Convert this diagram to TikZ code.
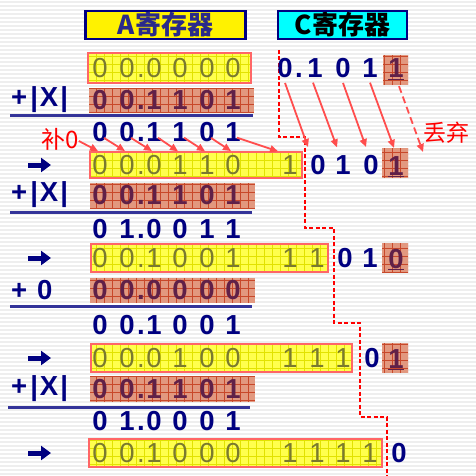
\documentclass[tikz,border=0pt]{standalone}
\usepackage{fontspec}
\setmainfont{Liberation Sans}
\newfontfamily\cjk{Noto Sans CJK SC}
\usetikzlibrary{arrows.meta}
\definecolor{navyT}{HTML}{000080}
\definecolor{titleT}{HTML}{2A2A8A}
\definecolor{lineB}{HTML}{333399}
\definecolor{oliveT}{HTML}{7A7A2E}
\definecolor{purpT}{HTML}{602048}
\definecolor{yFill}{HTML}{FFFF4D}
\definecolor{yGrid}{HTML}{E2E200}
\definecolor{yBord}{HTML}{FF6666}
\definecolor{bFill}{HTML}{E2987F}
\definecolor{bGrid}{HTML}{C8482A}
\definecolor{redA}{HTML}{FF4D4D}
\definecolor{stripeC}{HTML}{EEEEEE}
\definecolor{cyanF}{HTML}{00FFFF}
\tikzset{
  dig/.style={inner sep=0pt, font=\bfseries\fontsize{27.5}{32}\selectfont},
  nv/.style={dig, text=navyT},
  ol/.style={dig, text=oliveT, font=\fontsize{27.5}{32}\selectfont},
  pu/.style={dig, text=purpT},
  redtxt/.style={inner sep=0pt, text=red, font=\cjk\fontsize{24}{28}\selectfont},
  redarr/.style={draw=redA, line width=1.8pt, -{Triangle[length=8pt,width=7pt]}},
  sumline/.style={draw=lineB, line width=3pt},
  bigarr/.style={draw=navyT, line width=5pt, -{Triangle[length=10pt,width=14pt]}},
  titlebox/.style={draw=navyT, line width=2.5pt, inner sep=0pt, minimum height=28pt,
    font=\cjk\bfseries\fontsize{26}{30}\selectfont},
}
\newcommand\bitrow[4]{\foreach \x/\c [count=\i] in {#4}{\node[#3] (#1\i) at (\x,#2) {\c};}}
\newcommand\yreg[4]{\fill[yFill] (#1,#2) rectangle (#3,#4);
  \begin{scope}\clip (#1,#2) rectangle (#3,#4);
  \draw[yGrid, line width=0.7pt] (#1,#2) grid[step=8pt] (#3,#4);\end{scope}
  \draw[yBord, line width=1.5pt] (#1,#2) rectangle (#3,#4);}
\newcommand\breg[4]{\fill[bFill] (#1,#2) rectangle (#3,#4);
  \begin{scope}\clip (#1,#2) rectangle (#3,#4);
  \draw[bGrid, line width=0.7pt] (#1,#2) grid[step=8pt] (#3,#4);\end{scope}}
\newcommand\dotd[1]{#1\rlap{\kern2.5pt.}}
\begin{document}
\begin{tikzpicture}[x=1pt,y=-1pt]
\useasboundingbox (0,0) rectangle (476,476);
\fill[white] (0,0) rectangle (476,476);
\foreach \s in {2,6,...,474} \draw[stripeC, line width=1.3pt] (0,\s) -- (476,\s);

% titles
\node[titlebox, fill=yellow, text=titleT, minimum width=160pt] (tA) at (165.5,25) {\raisebox{-5pt}{A寄存器}};
\node[titlebox, fill=cyanF, text=black, minimum width=129pt] (tC) at (342.5,25) {\raisebox{-5pt}{C寄存器}};

% separator
\draw[red, line width=1.5pt, dash pattern=on 4pt off 2.5pt]
  (279,50) |- (305,137) |- (334,228) |- (360,323) |- (387,417) -- (387,476);

% row 1
\yreg{88}{53}{251}{83}
\bitrow{r1-}{68}{ol}{100/0,127/{\dotd0},154/0,180/0,207/0,233/0}
\bitrow{c1-}{68}{nv}{285/{\dotd0},315/1,343/0,370/1}
\breg{383}{55}{408}{85}
\node[pu, anchor=base] (c1b) at (396,78) {\underline{1}};

% row 2
\node[nv, anchor=west] (px1) at (11,100) {+\kern3pt|\kern2pt X\kern2pt|};
\breg{89}{88}{254}{113}
\bitrow{r2-}{100}{pu}{100/0,127/{\dotd0},154/1,180/1,207/0,233/1}
\draw[sumline] (10,116) -- (253,116);

% row 3
\bitrow{r3-}{132}{nv}{100/0,127/{\dotd0},154/1,180/1,207/0,233/1}
\node[redtxt] (bu0) at (60,139) {补0};

% row 4
\coordinate (a4s) at (28,165); \coordinate (a4e) at (51,165);
\draw[bigarr] (a4s) -- (a4e);
\yreg{90}{152}{302}{178}
\bitrow{r4-}{165}{ol}{100/0,127/{\dotd0},154/0,180/1,207/1,233/0,290/1}
\bitrow{c4-}{165}{nv}{318/0,343/1,371/0}
\breg{382}{148}{408}{178}
\node[pu, anchor=base] (c4b) at (396,175) {\underline{1}};

% arrows A
\draw[redarr] ([yshift=-2pt]bu0.east) -- ([xshift=-2pt,yshift=4pt]r4-1.north);
\foreach \k/\t in {1/2,2/3,3/4,4/5,5/6}
  \draw[redarr] ([xshift=4pt,yshift=4pt]r3-\k.south) -- ([xshift=-2pt,yshift=4pt]r4-\t.north);
\draw[redarr] ([xshift=4pt,yshift=4pt]r3-6.south) -- ([xshift=-12pt,yshift=4pt]r4-7.north);
% arrows C
\draw[redarr] ([yshift=-5pt]c1-1.south) -- ([xshift=-10pt,yshift=8pt]c4-1.north);
\draw[redarr] ([xshift=-2pt,yshift=-5pt]c1-2.south) -- ([xshift=-6pt,yshift=8pt]c4-2.north);
\draw[redarr] ([yshift=-5pt]c1-3.south) -- ([xshift=-5pt,yshift=8pt]c4-3.north);
\draw[redarr] ([yshift=-5pt]c1-4.south) -- ([xshift=-2pt,yshift=8pt]c4b.north);
\coordinate (discard) at (423,152);
\draw[redarr, dash pattern=on 7pt off 4pt] ([xshift=3pt,yshift=-6pt]c1b.south) -- (discard);
\node[redtxt, font=\cjk\fontsize{23}{27}\selectfont] (qq) at (446,133) {丢弃};

% row 5
\node[nv, anchor=west] (px2) at (11,195) {+\kern3pt|\kern2pt X\kern2pt|};
\breg{90}{183}{255}{208}
\bitrow{r5-}{195}{pu}{100/0,127/{\dotd0},154/1,180/1,207/0,233/1}
\draw[sumline] (10,212) -- (252,212);

% row 6
\bitrow{r6-}{229}{nv}{100/0,127/{\dotd1},154/0,180/0,207/1,233/1}

% row 7
\coordinate (a7s) at (28,258); \coordinate (a7e) at (51,258);
\draw[bigarr] (a7s) -- (a7e);
\yreg{91}{244}{328}{272}
\bitrow{r7-}{258}{ol}{100/0,127/{\dotd0},154/1,180/0,207/0,233/1,290/1,317/1}
\bitrow{c7-}{258}{nv}{345/0,370/1}
\breg{382}{243}{408}{273}
\node[pu, anchor=base] (c7b) at (396,268) {\underline{0}};

% row 8
\node[nv, anchor=west] (p0) at (11,290) {+\kern10pt0};
\breg{90}{278}{255}{303}
\bitrow{r8-}{290}{pu}{100/0,127/{\dotd0},154/0,180/0,207/0,233/0}
\draw[sumline] (10,306) -- (252,306);

% row 9
\bitrow{r9-}{325}{nv}{100/0,127/{\dotd0},154/1,180/0,207/0,233/1}

% row 10
\coordinate (a10s) at (28,358); \coordinate (a10e) at (51,358);
\draw[bigarr] (a10s) -- (a10e);
\yreg{91}{344}{352}{372}
\bitrow{r10-}{358}{ol}{100/0,127/{\dotd0},154/0,180/1,207/0,233/0,290/1,317/1,343/1}
\node[nv] (c10a) at (372,358) {0};
\breg{382}{343}{408}{373}
\node[pu, anchor=base] (c10b) at (396,368) {\underline{1}};

% row 11
\node[nv, anchor=west] (px3) at (11,389) {+\kern3pt|\kern2pt X\kern2pt|};
\breg{90}{376}{255}{402}
\bitrow{r11-}{389}{pu}{100/0,127/{\dotd0},154/1,180/1,207/0,233/1}
\draw[sumline] (8,407) -- (250,407);

% row 12
\bitrow{r12-}{421}{nv}{100/0,127/{\dotd1},154/0,180/0,207/0,233/1}

% row 13
\coordinate (a13s) at (28,453); \coordinate (a13e) at (51,453);
\draw[bigarr] (a13s) -- (a13e);
\yreg{89}{439}{382}{467}
\bitrow{r13-}{453}{ol}{100/0,127/{\dotd0},154/1,180/0,207/0,233/0,290/1,317/1,343/1,370/1}
\node[nv] (c13a) at (399,453) {0};
\end{tikzpicture}
\end{document}
